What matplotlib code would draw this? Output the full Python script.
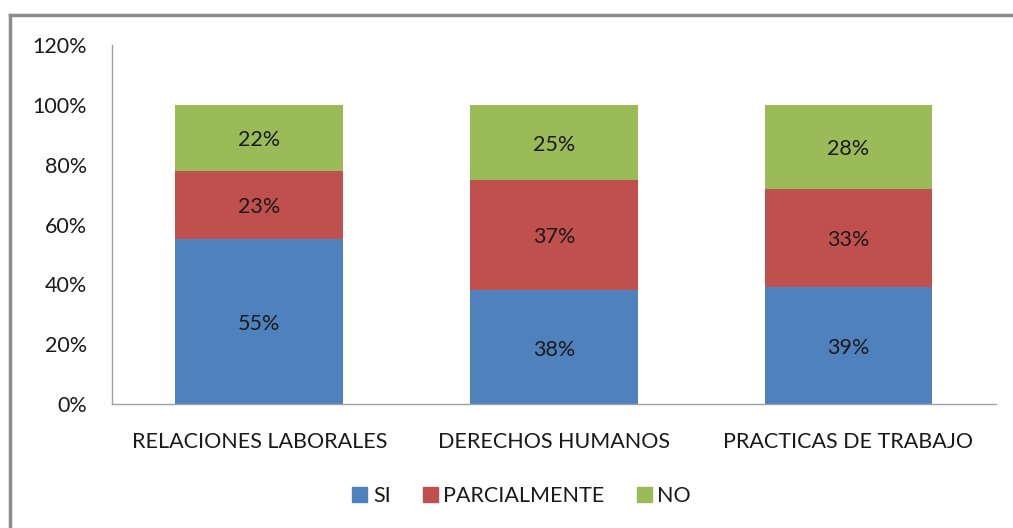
import matplotlib
matplotlib.use("Agg")
import matplotlib.pyplot as plt
from matplotlib.lines import Line2D
from matplotlib.patches import Patch

categories = ["RELACIONES LABORALES", "DERECHOS HUMANOS", "PRACTICAS DE TRABAJO"]
si = [55, 38, 39]
parcial = [23, 37, 33]
no = [22, 25, 28]
series_names = ["SI", "PARCIALMENTE", "NO"]
colors = ["#4F81BD", "#C0504D", "#9BBB59"]
yticks = [0, 20, 40, 60, 80, 100, 120]

plt.rcParams['font.family'] = ['Lato', 'DejaVu Sans']
FS = 15.5
TC = "#1a1a1a"

fig = plt.figure(figsize=(10.13, 5.28), dpi=100)
ax = fig.add_axes([0.1106, 0.2348, 0.8724, 0.68])

x = list(range(len(categories)))
w = 0.57
bottoms = [0, 0, 0]
for vals, name, c in zip([si, parcial, no], series_names, colors):
    ax.bar(x, vals, w, bottom=bottoms, color=c, label=name, zorder=2)
    for xi, v, b in zip(x, vals, bottoms):
        ax.text(xi, b + v / 2 - 0.8, f"{v}%", ha="center", va="center", fontsize=FS, color=TC)
    bottoms = [b + v for b, v in zip(bottoms, vals)]

ax.set_xlim(-0.5, len(categories) - 0.5)
ax.set_ylim(0, 120)
ax.set_yticks(yticks)
ax.set_yticklabels([f"{t}%" for t in yticks], fontsize=FS, color=TC)
ax.set_xticks(x)
ax.set_xticklabels(categories, fontsize=FS, color=TC)
ax.tick_params(axis="both", length=0)
ax.tick_params(axis="y", pad=18)
ax.tick_params(axis="x", pad=20)
for s in ["top", "right"]:
    ax.spines[s].set_visible(False)
for s in ["left", "bottom"]:
    ax.spines[s].set_color("#A0A0A0")
    ax.spines[s].set_linewidth(1)

handles = [Patch(facecolor=c, edgecolor=c) for c in colors]
fig.legend(handles, series_names, loc="center", bbox_to_anchor=(0.515, 0.06), ncol=3,
           frameon=False, fontsize=FS, handlelength=0.7, handleheight=0.7,
           handletextpad=0.25, columnspacing=1.5, labelcolor=TC)

# figure border (top and left visible)
fig.add_artist(Line2D([10 / 1013, 1.0], [1 - 15 / 528, 1 - 15 / 528], transform=fig.transFigure,
                      color="#8C8C8C", linewidth=2.5))
fig.add_artist(Line2D([10 / 1013, 10 / 1013], [0, 1 - 15 / 528], transform=fig.transFigure,
                      color="#8C8C8C", linewidth=2.5))

fig.savefig("out.png", dpi=100)
